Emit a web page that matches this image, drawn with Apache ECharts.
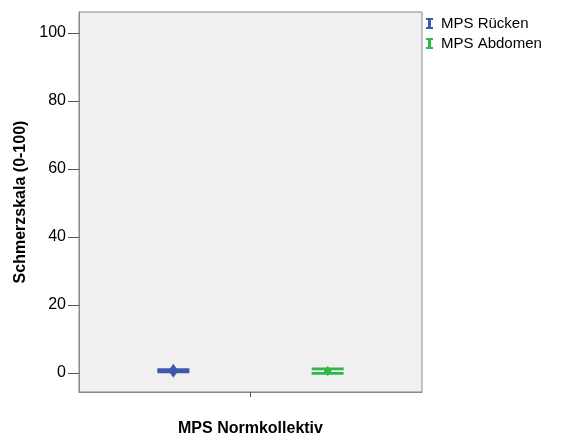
<!DOCTYPE html>
<html>
<head>
<meta charset="utf-8">
<script src="https://cdn.jsdelivr.net/npm/echarts@6/dist/echarts.min.js"></script>
<style>
html,body{margin:0;padding:0;background:#fff;}
#chart{width:562px;height:439px;}
</style>
</head>
<body>
<div id="chart"></div>
<script>
// ---- data ----
const categories = ['MPS Normkollektiv'];
const seriesNames = ['MPS Rücken', 'MPS Abdomen'];
// [low, mean, high] per category
const rueckenLow = [0.3];
const rueckenMean = [0.65];
const rueckenHigh = [1.0];
const abdomenLow = [-0.1];
const abdomenMean = [0.55];
const abdomenHigh = [1.2];
const yTicks = [0, 20, 40, 60, 80, 100];

const FONT = 'Liberation Sans, Arial, sans-serif';
const colors = ['#3E58AC', '#2EB848'];
const offsets = [-0.225, 0.225];
const markers = [{hw: 5, hh: 7}, {hw: 4, hh: 5}];

function buildData(lo, me, hi) {
  return categories.map((c, i) => [i, lo[i], me[i], hi[i]]);
}

function makeRender(k) {
  return function (params, api) {
    const ci = api.value(0);
    const band = api.size([1, 0])[0];
    const xc = api.coord([ci, 0])[0] + offsets[k] * band;
    const yl = api.coord([ci, api.value(1)])[1];
    const ym = api.coord([ci, api.value(2)])[1];
    const yh = api.coord([ci, api.value(3)])[1];
    const hw = 16;
    const st = {stroke: colors[k], lineWidth: 2.8, fill: null};
    const m = markers[k];
    return {
      type: 'group',
      children: [
        {type: 'line', shape: {x1: xc, y1: yl, x2: xc, y2: yh}, style: st},
        {type: 'line', shape: {x1: xc - hw, y1: yl, x2: xc + hw, y2: yl}, style: st},
        {type: 'line', shape: {x1: xc - hw, y1: yh, x2: xc + hw, y2: yh}, style: st},
        {type: 'polygon', shape: {points: [[xc, ym - m.hh], [xc + m.hw, ym], [xc, ym + m.hh], [xc - m.hw, ym]]},
         style: {fill: colors[k], stroke: null}}
      ]
    };
  };
}

const iconI = 'path://M0,0H7V2H5V9H7V11H0V9H2V2H0Z';

const chart = echarts.init(document.getElementById('chart'), null, {renderer: 'canvas'});
chart.setOption({
  animation: false,
  textStyle: {fontFamily: FONT},
  grid: {
    left: 79, top: 12, right: 140, bottom: 47,
    outerBoundsMode: 'none', containLabel: false,
    show: true, backgroundColor: '#F0F0F0', borderColor: '#888888', borderWidth: 1
  },
  legend: {
    left: 426, top: 16, padding: 0, orient: 'vertical',
    itemWidth: 7, itemHeight: 11, itemGap: 5,
    textStyle: {fontFamily: FONT, fontSize: 15, color: '#000', lineHeight: 15, padding: [0, 0, 0, 3]},
    data: seriesNames.map(n => ({name: n, icon: iconI}))
  },
  xAxis: {
    type: 'category',
    data: categories,
    name: categories[0],
    nameLocation: 'middle',
    nameGap: 29,
    nameTextStyle: {fontFamily: FONT, fontSize: 16, fontWeight: 'bold', color: '#000'},
    axisLine: {show: true, onZero: false, lineStyle: {color: '#888888'}},
    axisTick: {show: true, alignWithLabel: true, length: 5, lineStyle: {color: '#555'}},
    axisLabel: {show: false},
    splitLine: {show: false}
  },
  yAxis: {
    type: 'value',
    min: -5.6,
    max: 106.2,
    name: 'Schmerzskala (0-100)',
    nameLocation: 'middle',
    nameGap: 41,
    nameRotate: 90,
    nameTextStyle: {fontFamily: FONT, fontSize: 16, fontWeight: 'bold', color: '#000'},
    axisLine: {show: true, lineStyle: {color: '#888888'}},
    axisTick: {show: true, length: 11, customValues: yTicks, lineStyle: {color: '#555'}},
    axisLabel: {customValues: yTicks, margin: 13, fontFamily: FONT, fontSize: 16, color: '#000'},
    splitLine: {show: false}
  },
  series: [
    {
      name: seriesNames[0], type: 'custom', itemStyle: {color: colors[0]},
      renderItem: makeRender(0),
      encode: {x: 0, y: [1, 2, 3]},
      data: buildData(rueckenLow, rueckenMean, rueckenHigh)
    },
    {
      name: seriesNames[1], type: 'custom', itemStyle: {color: colors[1]},
      renderItem: makeRender(1),
      encode: {x: 0, y: [1, 2, 3]},
      data: buildData(abdomenLow, abdomenMean, abdomenHigh)
    }
  ]
});
</script>
</body>
</html>
